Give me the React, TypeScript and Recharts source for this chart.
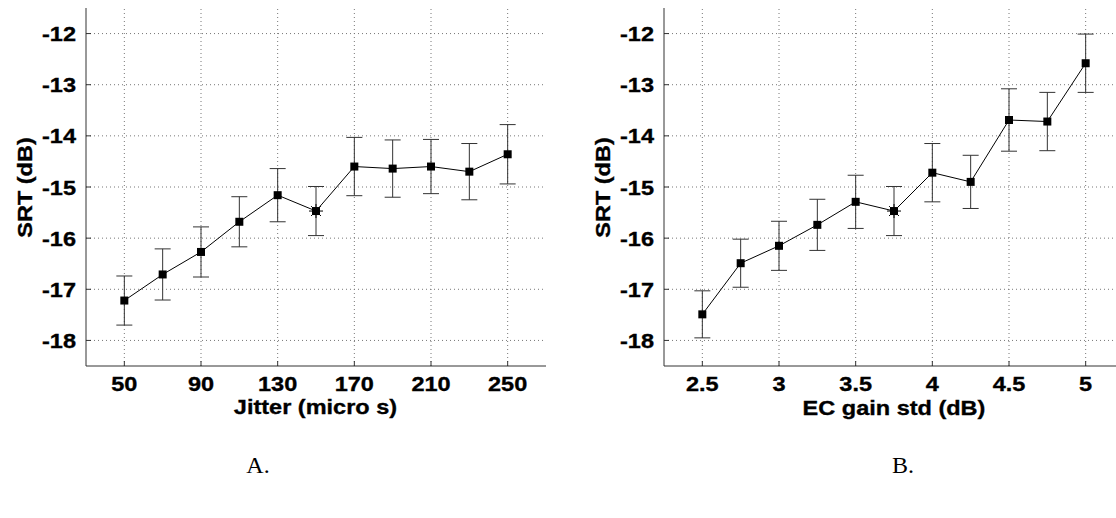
import React from 'react';
import { LineChart, Line, XAxis, YAxis, ReferenceLine, ErrorBar } from 'recharts';

const jitterX = [50, 70, 90, 110, 130, 150, 170, 190, 210, 230, 250];
const jitterSRT = [-17.22, -16.71, -16.27, -15.68, -15.16, -15.47, -14.6, -14.64, -14.6, -14.7, -14.36];
const jitterErr = [0.48, 0.5, 0.49, 0.49, 0.52, 0.48, 0.57, 0.56, 0.53, 0.55, 0.58];
const jitterTicks = [50, 90, 130, 170, 210, 250];

const ecX = [2.5, 2.75, 3, 3.25, 3.5, 3.75, 4, 4.25, 4.5, 4.75, 5];
const ecSRT = [-17.49, -16.49, -16.15, -15.74, -15.29, -15.47, -14.72, -14.9, -13.69, -13.72, -12.58];
const ecErr = [0.46, 0.47, 0.48, 0.5, 0.52, 0.48, 0.57, 0.52, 0.61, 0.57, 0.57];
const ecTicks = [2.5, 3, 3.5, 4, 4.5, 5];

const srtTicks = [-18, -17, -16, -15, -14, -13, -12];
const starIndex = 5;

const FONT = '"Liberation Sans", Arial, sans-serif';
const STRETCH = 1.12;
const FS = 21;

const jitterData = jitterX.map((x, i) => ({ x, y: jitterSRT[i], err: jitterErr[i] }));
const ecData = ecX.map((x, i) => ({ x, y: ecSRT[i], err: ecErr[i] }));

const textStyle = {
  fontFamily: FONT,
  fontWeight: 'bold' as const,
  fontSize: FS,
  fill: '#000',
  stroke: '#000',
  strokeWidth: 0.35,
};

const XTick = (props: any) => {
  const { x, y, payload } = props;
  return (
    <g>
      <line x1={x} y1={y} x2={x} y2={y - 5} stroke="#333" strokeWidth={1} />
      <text transform={`translate(${x},${y + 24.5}) scale(${STRETCH},1)`} textAnchor="middle" style={textStyle}>
        {payload.value}
      </text>
    </g>
  );
};

const YTick = (props: any) => {
  const { x, y, payload } = props;
  return (
    <g>
      <line x1={x} y1={y} x2={x + 5} y2={y} stroke="#333" strokeWidth={1} />
      <text transform={`translate(${x - 10},${y + 7.5}) scale(${STRETCH},1)`} textAnchor="end" style={textStyle}>
        {payload.value}
      </text>
    </g>
  );
};

const Marker = (props: any) => {
  const { cx, cy, index } = props;
  if (cx == null || cy == null) return <g />;
  const s = 4;
  const rays: React.ReactNode[] = [];
  if (index === starIndex) {
    for (let k = 0; k < 8; k++) {
      const a = (k * Math.PI) / 4;
      rays.push(
        <line
          key={k}
          x1={cx}
          y1={cy}
          x2={cx + Math.cos(a) * 7}
          y2={cy + Math.sin(a) * 7}
          stroke="#000"
          strokeWidth={1}
        />
      );
    }
  }
  return (
    <g>
      {rays}
      <rect x={cx - s} y={cy - s} width={2 * s} height={2 * s} fill="#000" />
    </g>
  );
};

const Panel = ({ data, domain, ticks }: { data: any[]; domain: [number, number]; ticks: number[] }) => (
  <LineChart width={560} height={518} data={data} margin={{ top: 8, right: 14, bottom: 112, left: 0 }}>
    {srtTicks.map((v) => (
      <ReferenceLine key={`h${v}`} y={v} stroke="#777" strokeDasharray="1 3" strokeWidth={1} />
    ))}
    {ticks.map((v) => (
      <ReferenceLine key={`v${v}`} x={v} stroke="#777" strokeDasharray="1 3" strokeWidth={1} />
    ))}
    <XAxis
      dataKey="x"
      type="number"
      domain={domain}
      ticks={ticks}
      allowDataOverflow
      height={40}
      tickSize={0}
      tickMargin={0}
      tickLine={false}
      tick={<XTick />}
      axisLine={{ stroke: '#333', strokeWidth: 1 }}
      interval={0}
    />
    <YAxis
      type="number"
      domain={[-18.5, -11.5]}
      ticks={srtTicks}
      allowDataOverflow
      width={86}
      tickSize={0}
      tickMargin={0}
      tickLine={false}
      tick={<YTick />}
      axisLine={{ stroke: '#333', strokeWidth: 1 }}
      interval={0}
    />
    <Line
      dataKey="y"
      stroke="#000"
      strokeWidth={1}
      dot={<Marker />}
      activeDot={false}
      isAnimationActive={false}
    >
      <ErrorBar dataKey="err" width={8} stroke="#333" strokeWidth={1} isAnimationActive={false} />
    </Line>
  </LineChart>
);

export default function App() {
  return (
    <div
      style={{
        position: 'absolute',
        left: 0,
        top: 0,
        width: 1116,
        height: 518,
        overflow: 'hidden',
        background: '#fff',
      }}
    >
      <div style={{ position: 'absolute', left: 0, top: 0 }}>
        <Panel data={jitterData} domain={[30, 270]} ticks={jitterTicks} />
      </div>
      <div style={{ position: 'absolute', left: 578, top: 0 }}>
        <Panel data={ecData} domain={[2.25, 5.25]} ticks={ecTicks} />
      </div>
      <svg
        width={1116}
        height={518}
        style={{ position: 'absolute', left: 0, top: 0, pointerEvents: 'none' }}
      >
        <text transform={`translate(31.5,187.5) rotate(-90) scale(${STRETCH},1)`} textAnchor="middle" style={textStyle}>
          SRT (dB)
        </text>
        <text transform={`translate(609.5,187.5) rotate(-90) scale(${STRETCH},1)`} textAnchor="middle" style={textStyle}>
          SRT (dB)
        </text>
        <text transform={`translate(315.5,414) scale(${STRETCH},1)`} textAnchor="middle" style={textStyle}>
          Jitter (micro s)
        </text>
        <text transform={`translate(894,415) scale(${STRETCH},1)`} textAnchor="middle" style={textStyle}>
          EC gain std (dB)
        </text>
        <text x={258} y={473} textAnchor="middle" fontFamily='"Liberation Serif", "Times New Roman", serif' fontSize={24} fill="#000">
          A.
        </text>
        <text x={903} y={473} textAnchor="middle" fontFamily='"Liberation Serif", "Times New Roman", serif' fontSize={24} fill="#000">
          B.
        </text>
      </svg>
    </div>
  );
}
